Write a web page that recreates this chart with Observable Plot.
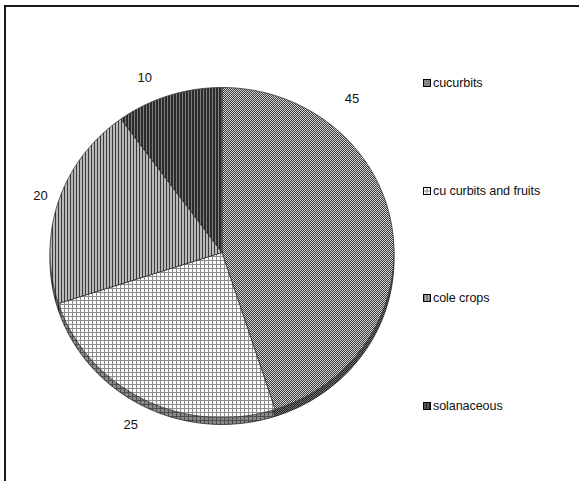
<!DOCTYPE html>
<html>
<head>
<meta charset="utf-8">
<script src="https://cdn.jsdelivr.net/npm/d3@7"></script>
<script src="https://cdn.jsdelivr.net/npm/@observablehq/plot@0.6"></script>
<style>
  html, body { margin: 0; padding: 0; background: #fff; }
  #chart { position: relative; width: 579px; height: 481px; overflow: hidden;
           font-family: "Liberation Sans", Arial, sans-serif; }
  #chart > svg.plot { position: absolute; left: 0; top: 0; }
  #frame { position: absolute; left: 4px; top: 5px; right: -10px; bottom: -10px;
           border-top: 2px solid #1a1a1a; border-left: 2px solid #1a1a1a; pointer-events: none; }
  #legend { position: absolute; left: 423px; top: 0; }
  .item { position: absolute; left: 0; display: flex; align-items: center; white-space: nowrap;
          font-size: 12.6px; line-height: 14px; color: #111; letter-spacing: -0.1px; }
  .item svg { margin-right: 2px; }
</style>
</head>
<body>
<div id="chart"><div id="frame"></div><div id="legend"></div></div>
<script>
// Crop groups and their shares (percent), drawn clockwise from 12 o'clock
const categories = ["cucurbits", "cu curbits and fruits", "cole crops", "solanaceous"];
const shares = [45, 25, 20, 10];
const valueLabels = ["45", "25", "20", "10"];

// Hatch fills for each group
const patternIds = ["p-cucurbits", "p-fruits", "p-cole", "p-solan"];

const defsSvg = d3.select("body").append("svg")
  .attr("width", 0).attr("height", 0)
  .style("position", "absolute").style("left", 0).style("top", 0);
const defs = defsSvg.append("defs");

function pattern(id, w, h, draw) {
  const p = defs.append("pattern").attr("id", id)
    .attr("patternUnits", "userSpaceOnUse")
    .attr("x", 0.5).attr("y", 0.5)
    .attr("width", w).attr("height", h);
  draw(p);
}
// fine checker
pattern("p-cucurbits", 2, 2, p => {
  p.append("rect").attr("width", 2).attr("height", 2).attr("fill", "#3c3c3c");
  p.append("rect").attr("x", 0).attr("y", 0).attr("width", 1).attr("height", 1).attr("fill", "#d2d2d2");
  p.append("rect").attr("x", 1).attr("y", 1).attr("width", 1).attr("height", 1).attr("fill", "#d2d2d2");
});
// open grid
pattern("p-fruits", 4, 4, p => {
  p.append("rect").attr("width", 4).attr("height", 4).attr("fill", "#fbfbfb");
  p.append("rect").attr("x", 0).attr("y", 3).attr("width", 4).attr("height", 1).attr("fill", "#8c8c8c");
  p.append("rect").attr("x", 3).attr("y", 0).attr("width", 1).attr("height", 4).attr("fill", "#8c8c8c");
});
// light vertical stripes
pattern("p-cole", 3, 3, p => {
  p.append("rect").attr("width", 3).attr("height", 3).attr("fill", "#b9b9b9");
  p.append("rect").attr("x", 0).attr("width", 1).attr("height", 3).attr("fill", "#3a3a3a");
});
// dark vertical stripes
pattern("p-solan", 3, 3, p => {
  p.append("rect").attr("width", 3).attr("height", 3).attr("fill", "#2c2c2c");
  p.append("rect").attr("x", 1).attr("width", 1).attr("height", 3).attr("fill", "#7c7c7c");
});

// Slice outlines in unit coordinates; y points up
const arcs = d3.pie().sort(null).value(d => d)(shares);
const depth = 0.042; // thickness of the tilted disc
function slicePoints(i, dy) {
  const a = arcs[i];
  const pts = [{key: categories[i], x: 0, y: -dy}];
  const n = Math.max(4, Math.ceil((a.endAngle - a.startAngle) / (Math.PI / 360)));
  for (let k = 0; k <= n; ++k) {
    const t = a.startAngle + (a.endAngle - a.startAngle) * k / n;
    pts.push({key: categories[i], x: Math.sin(t), y: Math.cos(t) - dy});
  }
  pts.push({key: categories[i], x: 0, y: -dy});
  return pts;
}

// Value label placement (angle in degrees clockwise from top, radius in unit)
const labelPlacement = {
  "cucurbits": {angle: 39, r: 1.2},
  "cu curbits and fruits": {angle: 207, r: 1.17},
  "cole crops": {angle: 288, r: 1.11},
  "solanaceous": {angle: 337, r: 1.15}
};
const labelRows = categories.map((c, i) => {
  const p = labelPlacement[c];
  const t = p.angle * Math.PI / 180;
  return {x: p.r * Math.sin(t), y: p.r * Math.cos(t), text: valueLabels[i]};
});

const sideMarks = [];
const topMarks = [];
categories.forEach((c, i) => {
  const side = slicePoints(i, depth);
  sideMarks.push(Plot.line(side, {x: "x", y: "y", fill: `url(#${patternIds[i]})`, stroke: "none"}));
  sideMarks.push(Plot.line(side, {x: "x", y: "y", fill: "#000", fillOpacity: 0.45, stroke: "#222", strokeWidth: 0.8}));
  topMarks.push(Plot.line(slicePoints(i, 0), {x: "x", y: "y", fill: `url(#${patternIds[i]})`, stroke: "#333", strokeWidth: 0.8}));
});

const cx = 221.5, cy = 252, rx = 172, ry = 165;
const chart = Plot.plot({
  width: 579,
  height: 481,
  margin: 0,
  style: {background: "transparent", fontFamily: "Liberation Sans, Arial, sans-serif"},
  x: {domain: [-1, 1], range: [cx - rx, cx + rx], axis: null},
  y: {domain: [-1, 1], range: [cy + ry, cy - ry], axis: null},
  marks: [
    ...sideMarks,
    ...topMarks,
    Plot.text(labelRows, {x: "x", y: "y", text: "text", fontSize: 13, fill: "#111"})
  ]
});
const root = document.getElementById("chart");
root.insertBefore(chart, root.firstChild);

// Legend
const legend = d3.select("#legend");
categories.forEach((c, i) => {
  const item = legend.append("div").attr("class", "item").style("top", `${76 + i * 107.7}px`);
  const icon = item.append("svg").attr("width", 8).attr("height", 8);
  icon.append("rect").attr("x", 0.5).attr("y", 0.5).attr("width", 7).attr("height", 7)
    .attr("fill", `url(#${patternIds[i]})`).attr("stroke", "#000").attr("stroke-width", 1);
  item.append("span").text(c);
});
</script>
</body>
</html>
